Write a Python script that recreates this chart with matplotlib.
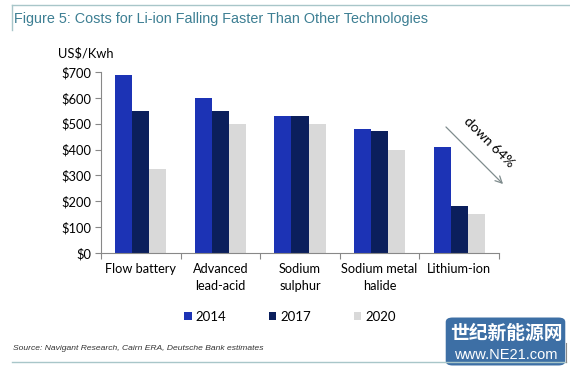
import matplotlib.pyplot as plt
from matplotlib.patches import FancyBboxPatch
from matplotlib.lines import Line2D
import numpy as np

# data
categories = ["Flow battery", "Advanced\nlead-acid", "Sodium\nsulphur",
              "Sodium metal\nhalide", "Lithium-ion"]
years = ["2014", "2017", "2020"]
cost_2014 = [690, 600, 530, 480, 410]
cost_2017 = [550, 550, 530, 470, 180]
cost_2020 = [325, 500, 500, 400, 150]
yticks = [0, 100, 200, 300, 400, 500, 600, 700]

colors = ["#1c33b5", "#0b1f5c", "#d9d9d9"]
W, H = 570, 372

def fx(px):
    return px / W

def fy(py):
    return 1 - py / H

fig = plt.figure(figsize=(5.7, 3.72), dpi=100)
fig.patch.set_facecolor("white")
ax = fig.add_axes([fx(101), fy(253), fx(499) - fx(101), fy(72) - fy(253)])

x = np.arange(len(categories))
bw = 0.215
for i, vals in enumerate([cost_2014, cost_2017, cost_2020]):
    ax.bar(x + (i - 1) * bw, vals, width=bw, color=colors[i], label=years[i],
           linewidth=0)

ax.set_xlim(-0.5, len(categories) - 0.5)
ax.set_ylim(0, 700)
ax.set_yticks(yticks)
ax.set_yticklabels(["$%d" % v for v in yticks], family="Lato", fontsize=9.3)
ax.set_xticks(np.arange(len(categories) + 1) - 0.5)
ax.set_xticklabels([])
ax.tick_params(axis="y", length=4, width=0.8, color="#888888", pad=3)
ax.tick_params(axis="x", length=4, width=0.8, color="#888888")
for s in ["top", "right"]:
    ax.spines[s].set_visible(False)
for s in ["left", "bottom"]:
    ax.spines[s].set_color("#888888")
    ax.spines[s].set_linewidth(0.8)

for xi, lab in zip(x, categories):
    ax.text(xi, -40, lab, ha="center", va="top", family="Lato", fontsize=9.2,
            linespacing=1.5, transform=ax.transData)

fig.text(fx(58), fy(53), "US$/Kwh", family="Lato", fontsize=9.3, va="center")

# legend
leg = fig.legend(loc="center", bbox_to_anchor=(fx(290), fy(317)), ncol=3,
                 frameon=False, prop={"family": "Lato", "size": 9.5},
                 handlelength=0.55, handleheight=0.55, handletextpad=0.3,
                 columnspacing=3.25)

# arrow annotation
ax.annotate("", xy=(fx(505), fy(186)), xytext=(fx(444), fy(125)),
            xycoords="figure fraction", textcoords="figure fraction",
            arrowprops=dict(arrowstyle="->", color="#7f8c8d", lw=0.9,
                            mutation_scale=12))
fig.text(fx(489), fy(142), "down 64%", rotation=-45, ha="center", va="center",
         family="Lato", fontsize=10, rotation_mode="anchor")

# title, frame lines
fig.text(fx(14), fy(19), "Figure 5: Costs for Li-ion Falling Faster Than Other Technologies",
         family="Liberation Sans", fontsize=10.4, color="#3d7f93", va="center")
line_c = "#a8c6c9"
fig.add_artist(Line2D([fx(12), 1], [fy(5), fy(5)], color=line_c, lw=1))
fig.add_artist(Line2D([fx(12), fx(12)], [fy(5), fy(30)], color=line_c, lw=1))
fig.add_artist(Line2D([fx(12), fx(566)], [fy(362), fy(362)], color=line_c, lw=1))
fig.add_artist(Line2D([fx(566), fx(566)], [fy(343), fy(362)], color="#888888", lw=0.8))

fig.text(fx(13), fy(349), "Source: Navigant Research, Cairn ERA, Deutsche Bank estimates",
         family="Liberation Sans", style="italic", fontsize=6.1, color="#333333",
         va="center")

# watermark
box = FancyBboxPatch((fx(448), fy(364)), fx(115), fy(319) - fy(364),
                     boxstyle="round,pad=0.004,rounding_size=0.012",
                     transform=fig.transFigure, facecolor="#3d6fa5",
                     edgecolor="none")
fig.add_artist(box)
fig.text(fx(506), fy(333), "世纪新能源网", family=["Noto Sans CJK SC", "DejaVu Sans"],
         fontsize=13.5, fontweight="bold", color="white", ha="center", va="center")
fig.text(fx(506), fy(355), "www.NE21.com", family="Liberation Sans",
         fontsize=10.5, color="white", ha="center", va="center")

fig.savefig("out.png", dpi=100)
